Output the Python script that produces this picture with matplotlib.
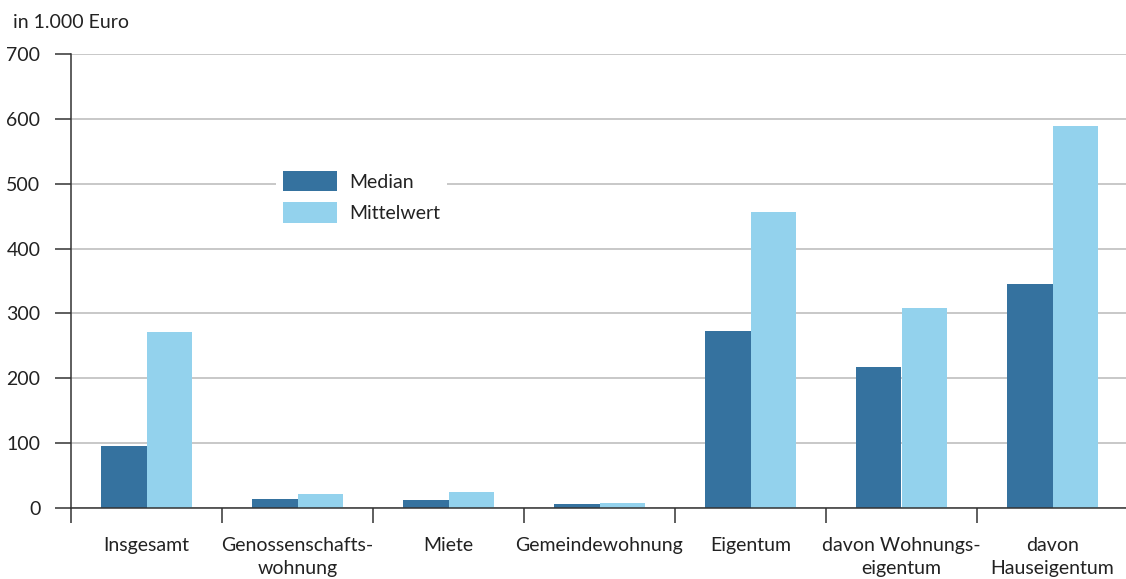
import numpy as np
import matplotlib
matplotlib.use("Agg")
import matplotlib.pyplot as plt

plt.rcParams['font.family'] = ['Lato', 'DejaVu Sans']

categories = ["Insgesamt", "Genossenschafts-\nwohnung", "Miete", "Gemeindewohnung",
              "Eigentum", "davon Wohnungs-\neigentum", "davon\nHauseigentum"]
median = [95, 14, 12, 6, 273, 217, 345]
mittelwert = [271, 22, 25, 8, 456, 308, 589]
yticks = [0, 100, 200, 300, 400, 500, 600, 700]

c_dark = "#35729f"
c_light = "#93d2ed"
fs = 14

fig = plt.figure(figsize=(11.26, 5.79), dpi=100)
W, H = 1126, 579
ax = fig.add_axes([71 / W, (H - 508) / H, (1128 - 71) / W, (508 - 54) / H])

x = np.arange(len(categories))
bw = 0.3
ax.bar(x - bw / 2, median, bw, color=c_dark, label="Median", zorder=3)
ax.bar(x + bw / 2, mittelwert, bw, color=c_light, label="Mittelwert", zorder=3)

ax.set_xlim(-0.5, len(categories) - 0.5)
ax.set_ylim(0, 700)
ax.set_yticks(yticks)
ax.yaxis.grid(True, color="#c4c4c4", linewidth=1.3, zorder=0)
ax.set_axisbelow(True)

for s in ["top", "right"]:
    ax.spines[s].set_visible(False)
ax.spines["left"].set_color("#333333")
ax.spines["bottom"].set_color("#333333")
ax.spines["left"].set_linewidth(1.1)
ax.spines["bottom"].set_linewidth(1.1)
ax.spines["bottom"].set_zorder(4)

ax.tick_params(axis="y", length=11.5, width=1.1, color="#333333", pad=10.5,
               labelsize=fs, labelcolor="#222222")

# category boundaries as major ticks, labels at centers as minor ticks
ax.set_xticks(np.arange(len(categories) + 1) - 0.5)
ax.set_xticklabels([])
ax.tick_params(axis="x", which="major", length=11, width=1.1, color="#333333")
ax.set_xticks(x, minor=True)
ax.set_xticklabels(categories, minor=True, fontsize=fs, color="#222222", linespacing=1.4)
ax.tick_params(axis="x", which="minor", length=0, pad=21)

fig.text(13 / W, 1 - 22 / H, "in 1.000 Euro", fontsize=fs, color="#222222",
         ha="left", va="center")

leg = ax.legend(loc="upper left", bbox_to_anchor=(276 / W, 1 - 164 / H),
                bbox_transform=fig.transFigure, frameon=True, fancybox=False,
                facecolor="white", edgecolor="none", framealpha=1,
                fontsize=fs, handlelength=2.78, handleheight=1.25,
                handletextpad=0.65, labelspacing=0.55, borderpad=0.35,
                borderaxespad=0)
for t in leg.get_texts():
    t.set_color("#222222")
leg.set_zorder(5)

fig.savefig("out.png", dpi=100)
